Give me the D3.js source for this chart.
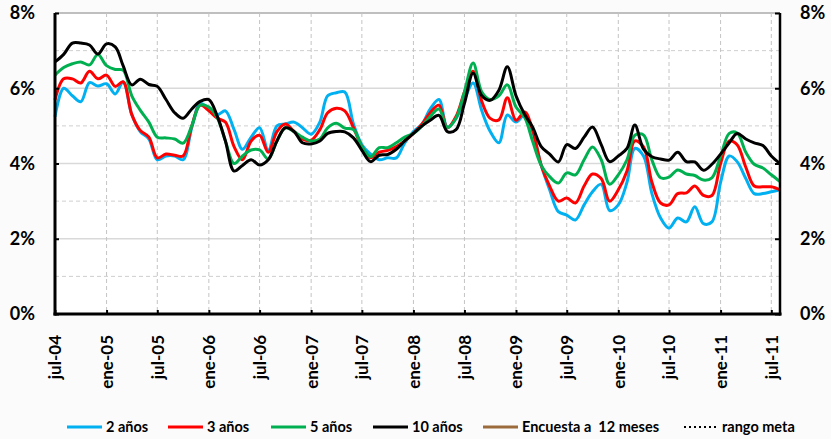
<!DOCTYPE html>
<html>
<head>
<meta charset="utf-8">
<script src="https://cdn.jsdelivr.net/npm/d3@7"></script>
<style>
  body { margin: 0; background: #fbfbfb; }
  text { font-family: Lato, "Open Sans", sans-serif; font-weight: bold; }
</style>
</head>
<body>
<div id="chart-container"></div>
<script>
// monthly series, jul-04 .. ago-11
var startMonth = new Date(2004, 6, 1);
var endMonth = new Date(2011, 7, 1);

var anios2 = [5.24,6.0,5.8,5.64,6.15,6.06,6.12,5.85,6.17,5.3,4.85,4.65,4.1,4.2,4.2,4.1,4.95,5.6,5.45,5.3,5.4,4.9,4.38,4.7,4.95,4.35,5.0,5.05,5.1,4.95,4.78,5.1,5.8,5.88,5.9,5.05,4.5,4.25,4.1,4.15,4.15,4.55,4.85,5.05,5.45,5.7,4.97,5.2,5.7,6.14,5.4,4.85,4.55,5.29,5.1,5.29,4.85,3.95,3.3,2.72,2.63,2.5,2.9,3.25,3.45,2.75,2.9,3.5,4.4,4.2,3.2,2.55,2.28,2.55,2.45,2.85,2.4,2.45,3.5,4.2,4.05,3.6,3.2,3.2,3.25,3.3];
var anios3 = [5.69,6.25,6.25,6.14,6.45,6.25,6.35,6.05,6.17,5.3,4.88,4.7,4.15,4.25,4.22,4.2,5.0,5.55,5.4,5.2,5.1,4.45,4.1,4.6,4.75,4.3,4.85,5.05,4.85,4.65,4.62,4.9,5.35,5.47,5.4,4.95,4.45,4.15,4.3,4.35,4.45,4.6,4.8,5.05,5.35,5.55,4.95,5.25,5.9,6.45,5.65,5.2,5.16,5.75,5.15,5.37,4.9,3.95,3.4,3.0,3.08,2.95,3.4,3.72,3.6,3.0,3.3,3.8,4.6,4.44,3.5,2.95,2.9,3.2,3.22,3.4,3.15,3.15,4.0,4.6,4.5,3.9,3.4,3.38,3.38,3.3];
var anios5 = [6.35,6.55,6.65,6.7,6.62,6.9,6.6,6.5,6.48,5.8,5.42,5.1,4.7,4.68,4.65,4.54,5.0,5.55,5.5,5.2,4.6,4.0,4.2,4.36,4.36,4.12,4.6,4.95,4.85,4.7,4.6,4.65,4.95,5.07,4.94,4.9,4.45,4.18,4.42,4.42,4.55,4.7,4.8,5.0,5.25,5.45,4.95,5.2,5.9,6.67,5.9,5.7,5.8,6.09,5.5,5.22,4.6,3.95,3.65,3.48,3.75,3.7,4.1,4.44,4.1,3.45,3.7,4.1,4.75,4.76,4.09,3.62,3.64,3.83,3.72,3.68,3.56,3.62,4.2,4.8,4.81,4.3,3.98,3.88,3.7,3.52];
var anios10 = [6.7,6.9,7.2,7.2,7.15,6.91,7.18,7.1,6.6,6.09,6.24,6.1,6.05,5.7,5.35,5.2,5.45,5.65,5.7,5.24,4.6,3.8,3.95,4.1,3.96,4.1,4.6,4.95,4.85,4.55,4.52,4.6,4.8,4.85,4.84,4.68,4.35,4.05,4.22,4.24,4.38,4.6,4.8,5.0,5.15,5.28,4.85,4.9,5.6,6.4,5.8,5.68,5.95,6.57,5.8,5.3,4.97,4.45,4.25,4.04,4.5,4.4,4.7,4.97,4.5,4.05,4.2,4.4,5.02,4.38,4.18,4.12,4.09,4.3,4.05,4.04,3.82,3.98,4.25,4.55,4.8,4.65,4.55,4.48,4.2,4.0];

var seriesNames = ["2 años", "3 años", "5 años", "10 años"];
var seriesColors = ["#00b0f0", "#ff0000", "#00b050", "#000000"];
var yTicks = [0, 2, 4, 6, 8];
var mesesAbr = ["ene", "feb", "mar", "abr", "may", "jun", "jul", "ago", "sep", "oct", "nov", "dic"];

var months = d3.timeMonth.range(startMonth, d3.timeMonth.offset(endMonth, 1));
var allSeries = [anios2, anios3, anios5, anios10];

var svg = d3.select("#chart-container").append("svg").attr("width", 831).attr("height", 439)
svg.append("rect").attr("width", 831).attr("height", 439).attr("fill", "#fbfbfb")

var x = d3.scaleTime().domain([startMonth, endMonth]).range([55, 780]);
var y = d3.scaleLinear().domain([0, 8]).range([314, 13]);

// plot background
svg.append("rect").attr("x", 55).attr("y", 13).attr("width", 725).attr("height", 301).attr("fill", "#fff")

// gridlines
var grid = svg.append("g").attr("class", "grid")
d3.range(1, 8).forEach(function (v) {
  grid.append("line").attr("x1", 55).attr("x2", 780).attr("y1", y(v)).attr("y2", y(v))
    .style("stroke", v % 2 == 0 ? "#d9d9d9" : "#cfcfcf").style("stroke-width", v % 2 == 0 ? 1.5 : 1)
    .style("stroke-dasharray", v % 2 == 0 ? null : "4,3")
})
grid.append("line").attr("x1", 55).attr("x2", 780).attr("y1", y(8)).attr("y2", y(8)).style("stroke", "#bfbfbf").style("stroke-width", 2)

var xTicks = d3.timeMonth.every(6).range(startMonth, endMonth);
xTicks.forEach(function (d, i) {
  if (i == 0) return;
  grid.append("line").attr("x1", x(d)).attr("x2", x(d)).attr("y1", 13).attr("y2", 314)
    .style("stroke", "#c4c4c4").style("stroke-width", 1).style("stroke-dasharray", "4,3")
})

// lines
var line = d3.line().x(function (d, i) { return x(months[i]); }).y(function (d) { return y(d); }).curve(d3.curveCatmullRom.alpha(0.5));
allSeries.forEach(function (s, k) {
  svg.append("path").datum(s).attr("d", line).style("fill", "none").style("stroke", seriesColors[k]).style("stroke-width", 3).style("stroke-linejoin", "round")
})

// axes
var fmt = function (d) { return mesesAbr[d.getMonth()] + "-" + d3.timeFormat("%y")(d); };
var xAxis = d3.axisBottom(x).tickValues(xTicks).tickSize(-4).tickFormat(fmt);
var gx = svg.append("g").attr("transform", "translate(0,314)").call(xAxis)
gx.select(".domain").remove()
gx.selectAll(".tick line").style("stroke", "#000").style("stroke-width", 2)
gx.selectAll(".tick text").attr("transform", "rotate(-90)").attr("x", -21).attr("y", 0).attr("dy", "0.35em")
  .style("text-anchor", "end").style("font-size", "17px").style("fill", "#000").style("font-family", "Lato, sans-serif")
svg.append("line").attr("x1", 53.5).attr("x2", 781.5).attr("y1", 314).attr("y2", 314).style("stroke", "#000").style("stroke-width", 3)

var yLeft = d3.axisLeft(y).tickValues(yTicks).tickSize(-4).tickPadding(20).tickFormat(function (d) { return d + "%"; });
var gl = svg.append("g").attr("transform", "translate(55,0)").call(yLeft)
gl.select(".domain").remove()
gl.selectAll(".tick line").style("stroke", "#000").style("stroke-width", 2)
gl.selectAll(".tick text").style("font-size", "18px").style("fill", "#000").style("font-family", "Lato, sans-serif")
svg.append("line").attr("x1", 55).attr("x2", 55).attr("y1", 13).attr("y2", 315.5).style("stroke", "#000").style("stroke-width", 3)

var yRight = d3.axisRight(y).tickValues(yTicks).tickSize(-5).tickPadding(20).tickFormat(function (d) { return d + "%"; });
var gr = svg.append("g").attr("transform", "translate(780,0)").call(yRight)
gr.select(".domain").remove()
gr.selectAll(".tick line").style("stroke", "#000").style("stroke-width", 2)
gr.selectAll(".tick text").style("font-size", "18px").style("fill", "#000").style("font-family", "Lato, sans-serif")
svg.append("line").attr("x1", 780).attr("x2", 780).attr("y1", 13).attr("y2", 315.5).style("stroke", "#000").style("stroke-width", 2.5)

// legend
var legendItems = [
  {name: seriesNames[0], color: seriesColors[0], x: 67},
  {name: seriesNames[1], color: seriesColors[1], x: 168},
  {name: seriesNames[2], color: seriesColors[2], x: 271},
  {name: seriesNames[3], color: seriesColors[3], x: 373},
  {name: "Encuesta a  12 meses", color: "#9c6b3c", x: 483},
  {name: "rango meta", color: "#000", x: 684, dotted: true}
];
var legend = svg.append("g").attr("class", "legend").attr("transform", "translate(0,427)")
legendItems.forEach(function (d) {
  legend.append("line").attr("x1", d.x).attr("x2", d.x + 35).attr("y1", 0).attr("y2", 0)
    .style("stroke", d.color).style("stroke-width", d.dotted ? 2 : 3).style("stroke-dasharray", d.dotted ? "2,3" : null)
  legend.append("text").attr("x", d.x + (d.dotted ? 38 : 39)).attr("y", 0).attr("dy", "0.35em")
    .style("font-size", "14.5px").style("fill", "#000").style("white-space", "pre").text(d.name)
})
</script>
</body>
</html>
